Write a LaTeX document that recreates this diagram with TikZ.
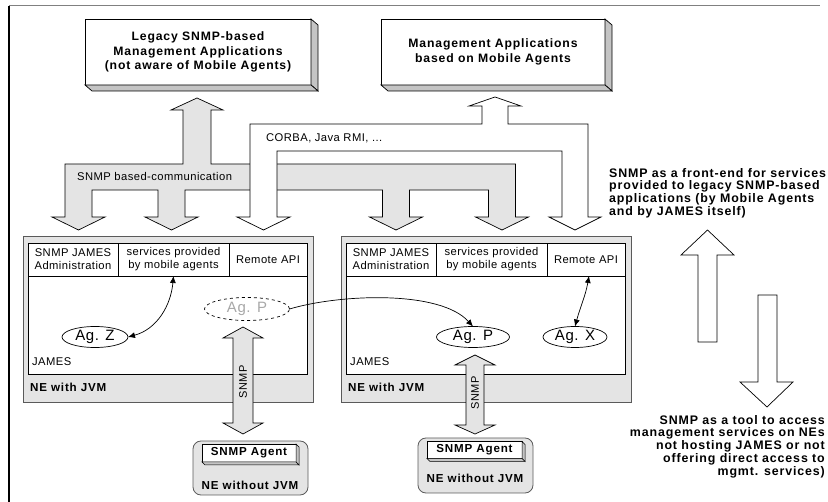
\documentclass[tikz,border=0pt]{standalone}
\usepackage{fontspec}
\setmainfont{Liberation Sans}[LetterSpace=4,BoldFeatures={LetterSpace=7}]
\usetikzlibrary{shapes.geometric,arrows.meta}
\definecolor{bandgray}{HTML}{E4E4E4}
\definecolor{sidegray}{HTML}{C4C4C4}
\definecolor{framegray}{HTML}{808080}
\definecolor{edgegray}{HTML}{5A5A5A}
\definecolor{ghost}{HTML}{A8A8A8}
\begin{document}
\begin{tikzpicture}[x=1pt,y=-1pt,line join=miter,
  box/.style={rectangle,draw,line width=0.7pt,fill=white,inner sep=0pt,outer sep=0pt},
  face/.style={draw,line width=0.7pt,fill=sidegray},
  block/.style={draw,line width=0.7pt},
  ttl/.style={font=\fontsize{12.2}{14.5}\selectfont\bfseries,align=center},
  lab/.style={font=\fontsize{11.2}{13}\selectfont,align=center,inner sep=0pt},
  blab/.style={font=\fontsize{11.6}{13}\selectfont\bfseries,inner sep=0pt},
  agent/.style={ellipse,draw,line width=0.7pt,fill=white,inner sep=0pt,outer sep=0pt,
    minimum height=21pt,font=\fontsize{15}{16}\selectfont},
  nebox/.style={rectangle,draw=edgegray,line width=0.8pt,fill=bandgray,inner sep=0pt,outer sep=0pt},
  devbox/.style={rectangle,rounded corners=8pt,draw=edgegray,line width=0.8pt,fill=bandgray,inner sep=0pt,outer sep=0pt},
  link/.style={line width=0.7pt},
  side/.style={font=\fontsize{12.4}{12.8}\selectfont\bfseries,inner sep=0pt}]
\useasboundingbox (0,0) rectangle (828,502);

% frame
\draw[framegray,line width=1pt] (9,6) -- (820,6);
\draw[black,line width=1.2pt] (9,6) -- (9,502);

% management applications (3D boxes)
\node[box,minimum width=226pt,minimum height=66pt] (legacy) at (198,52) {};
\node[ttl] at (legacy.center) {Legacy SNMP-based\\Management Applications\\(not aware of Mobile Agents)};
\filldraw[face] (legacy.north east) -- ++(7,6) -- ([shift={(7,6)}]legacy.south east) -- (legacy.south east) -- cycle;
\filldraw[face] (legacy.south west) -- ++(7,6) -- ([shift={(7,6)}]legacy.south east) -- (legacy.south east) -- cycle;

\node[box,minimum width=224pt,minimum height=66pt] (mobapp) at (493,52) {};
\node[ttl] at (mobapp.center) {Management Applications\\based on Mobile Agents};
\filldraw[face] (mobapp.north east) -- ++(7,6) -- ([shift={(7,6)}]mobapp.south east) -- (mobapp.south east) -- cycle;
\filldraw[face] (mobapp.south west) -- ++(7,6) -- ([shift={(7,6)}]mobapp.south east) -- (mobapp.south east) -- cycle;

% SNMP communication band
\filldraw[block,fill=bandgray] (65,164) -- (65,217) -- (52,217) -- (78.5,230) -- (105,217) -- (92,217)
  -- (92,190) -- (158,190) -- (158,217) -- (145,217) -- (171.5,230) -- (198,217) -- (185,217)
  -- (185,190) -- (382.5,190) -- (382.5,217) -- (369.5,217) -- (396,230) -- (422.5,217) -- (409.5,217)
  -- (409.5,190) -- (488.5,190) -- (488.5,217) -- (475.5,217) -- (502,230) -- (528.5,217) -- (515.5,217)
  -- (515.5,164) -- (211,164) -- (211,110) -- (223,110) -- (197,98) -- (171,110) -- (183,110)
  -- (183,164) -- cycle;
\node[lab,anchor=west] at (77,177) {SNMP based-communication};

% CORBA / Java RMI channel
\filldraw[block,fill=white] (250,217) -- (250,124) -- (482,124) -- (482,106) -- (469,106) -- (495,97)
  -- (521,106) -- (508,106) -- (508,124) -- (588,124) -- (588,217) -- (601,217) -- (575,230)
  -- (549,217) -- (562,217) -- (562,151) -- (277,151) -- (277,217) -- (290,217) -- (263.5,230)
  -- (237,217) -- cycle;
\node[lab,anchor=west] at (266,138) {CORBA, Java RMI, ...};

% left network element
\node[nebox,minimum width=290pt,minimum height=166pt] (neL) at (168,319) {};
\node[box,minimum width=279pt,minimum height=131pt] (jamesL) at (167.5,308.5) {};
\node[box,minimum width=90pt,minimum height=33pt,lab] (admL) at (73,259.5) {SNMP JAMES\\Administration};
\node[box,minimum width=111pt,minimum height=33pt,lab] (svcL) at (173.5,259.5) {services provided\\by mobile agents};
\node[box,minimum width=78pt,minimum height=33pt,lab] (apiL) at (268,259.5) {Remote API};
\node[lab,anchor=west] at (32,362) {JAMES};
\node[blab,anchor=west] at (30,387) {NE with JVM};
\node[agent,minimum width=66pt] (agz) at (95,337) {Ag. Z};
\node[agent,dashed,minimum width=85pt,minimum height=23pt,text=ghost] (agpd) at (247,309) {Ag. P};

% right network element
\node[nebox,minimum width=290pt,minimum height=166pt] (neR) at (486,319) {};
\node[box,minimum width=279pt,minimum height=131pt] (jamesR) at (485.5,308.5) {};
\node[box,minimum width=90pt,minimum height=33pt,lab] (admR) at (391,259.5) {SNMP JAMES\\Administration};
\node[box,minimum width=111pt,minimum height=33pt,lab] (svcR) at (491.5,259.5) {services provided\\by mobile agents};
\node[box,minimum width=78pt,minimum height=33pt,lab] (apiR) at (586,259.5) {Remote API};
\node[lab,anchor=west] at (350,362) {JAMES};
\node[blab,anchor=west] at (348,387) {NE with JVM};
\node[agent,minimum width=73pt] (agp) at (473,337) {Ag. P};
\node[agent,minimum width=64pt] (agx) at (575,337) {Ag. X};

% agent interactions
\draw[link,{Latex[length=7pt,width=6pt]}-{Latex[length=7pt,width=6pt]}] (svcL.south) to[out=-95,in=15] (agz.east);
\draw[link,-{Latex[length=7pt,width=6pt]}] (agpd.east) .. controls (340,294) and (440,290) .. (agp.north);
\draw[link,{Latex[length=7pt,width=6pt]}-{Latex[length=7pt,width=6pt]}] ([xshift=3pt]apiR.south) to[out=-100,in=75] (agx.north);

% SNMP links to devices
\filldraw[block,fill=bandgray] (233,338) -- (223,338) -- (243,327) -- (263,338) -- (253,338) -- (253,423)
  -- (263,423) -- (243,434) -- (223,423) -- (233,423) -- cycle;
\node[lab,rotate=90,font=\fontsize{11}{12}\selectfont] at (243,382) {SNMP};
\filldraw[block,fill=bandgray] (466,365) -- (455,365) -- (475,355) -- (495,365) -- (484,365) -- (484,425)
  -- (495,425) -- (475,434) -- (455,425) -- (466,425) -- cycle;
\node[lab,rotate=90,font=\fontsize{11}{12}\selectfont] at (475,393) {SNMP};

% network elements without JVM
\node[devbox,minimum width=115pt,minimum height=54pt] (devL) at (250.5,468) {};
\node[box,minimum width=94pt,minimum height=18pt,blab] (snmpL) at (249,453) {SNMP Agent};
\filldraw[face,line width=0.5pt] (snmpL.north east) -- ++(3,3) -- ([shift={(3,3)}]snmpL.south east) -- (snmpL.south east) -- cycle;
\filldraw[face,line width=0.5pt] (snmpL.south west) -- ++(3,3) -- ([shift={(3,3)}]snmpL.south east) -- (snmpL.south east) -- cycle;
\node[blab] at (250,485) {NE without JVM};

\node[devbox,minimum width=115pt,minimum height=55pt] (devR) at (475.5,465.5) {};
\node[box,minimum width=95pt,minimum height=17pt,blab] (snmpR) at (474.5,450) {SNMP Agent};
\filldraw[face,line width=0.5pt] (snmpR.north east) -- ++(3,3) -- ([shift={(3,3)}]snmpR.south east) -- (snmpR.south east) -- cycle;
\filldraw[face,line width=0.5pt] (snmpR.south west) -- ++(3,3) -- ([shift={(3,3)}]snmpR.south east) -- (snmpR.south east) -- cycle;
\node[blab] at (475,478) {NE without JVM};

% roles of SNMP
\node[side,anchor=north west,align=left] (frontend) at (609,168)
  {SNMP as a front-end for services\\provided to legacy SNMP-based\\applications (by Mobile Agents\\and by JAMES itself)};
\filldraw[block,fill=white] (698,342) -- (698,255) -- (681,255) -- (707.5,230) -- (734,255) -- (717,255)
  -- (717,342) -- cycle;
\filldraw[block,fill=white] (758,295) -- (758,382) -- (740,382) -- (767,407) -- (793,382) -- (777,382)
  -- (777,295) -- cycle;
\node[side,anchor=north east,align=right] (tool) at (825,415)
  {SNMP as a tool to access\\management services on NEs\\not hosting JAMES or not\\offering direct access to\\mgmt. services)};
\end{tikzpicture}
\end{document}
